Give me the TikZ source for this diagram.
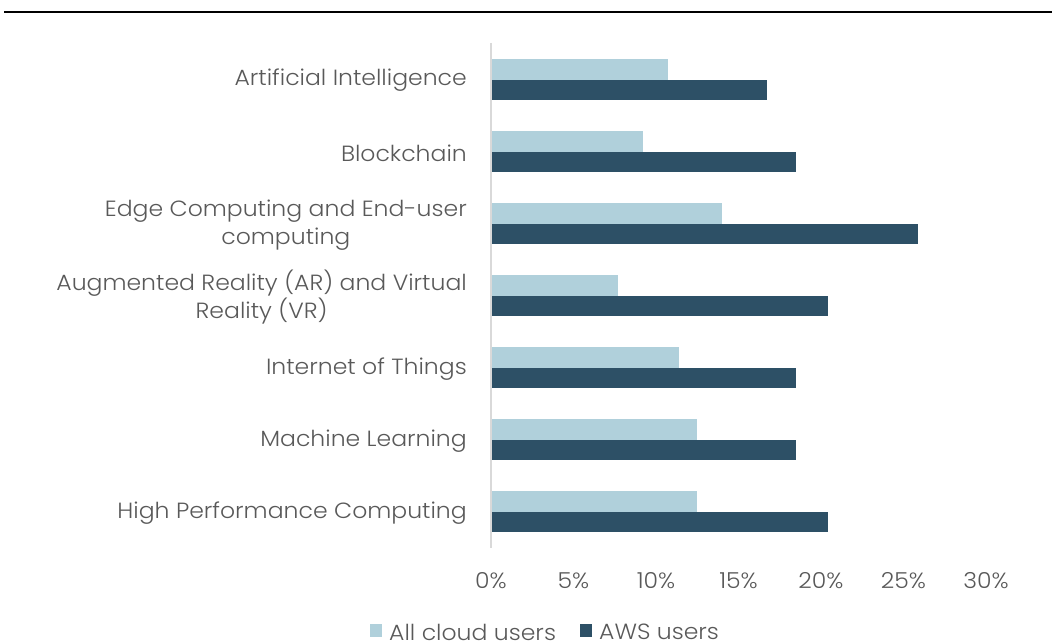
\documentclass[tikz,border=0pt]{standalone}
\usepackage{fontspec}
\setmainfont{Poppins}[UprightFont=* Light, FakeStretch=1.07]
\definecolor{allcloud}{HTML}{B0D0DB}
\definecolor{aws}{HTML}{2D5066}
\definecolor{txt}{HTML}{595959}
\definecolor{axisgray}{HTML}{D9D9D9}
\begin{document}
\begin{tikzpicture}[x=1pt,y=-1pt,
  catlabel/.style={anchor=east, text=txt, font=\fontsize{22}{28}\selectfont, align=center, inner sep=0pt},
  ticklabel/.style={anchor=center, text=txt, font=\fontsize{22}{28}\selectfont, inner sep=0pt},
  legendtext/.style={anchor=west, text=txt, font=\fontsize{22}{28}\selectfont, inner sep=0pt},
  lightbar/.style={fill=allcloud},
  darkbar/.style={fill=aws}]
\useasboundingbox (0,0) rectangle (1052,642);

% rule along the top
\draw[line width=2.5pt] (4,12) -- (1052,12);

% value axis: 0% at x=491, 16.5 per percent
\def\xz{491}
\def\sc{16.5}

% bars: index / all cloud users / AWS users
\foreach \i/\a/\b in {0/10.7/16.7, 1/9.2/18.5, 2/14.0/25.9, 3/7.7/20.4, 4/11.4/18.5, 5/12.5/18.5, 6/12.5/20.4}{
  \pgfmathsetmacro{\yc}{80+72*\i}
  \fill[lightbar] (\xz,\yc-21) rectangle ({\xz+\sc*\a},\yc);
  \fill[darkbar] (\xz,\yc) rectangle ({\xz+\sc*\b},\yc+20);
}

% category axis line
\draw[axisgray, line width=1.5pt] (\xz,43) -- (\xz,548);

% category labels
\node[catlabel] (ai)   at (467,80)  {Artificial Intelligence};
\node[catlabel] (bc)   at (467,153) {Blockchain};
\node[catlabel] (edge) at (467,225) {Edge Computing and End-user\\computing};
\node[catlabel] (arvr) at (467,297) {Augmented Reality (AR) and Virtual\\Reality (VR)};
\node[catlabel] (iot)  at (467,369) {Internet of Things};
\node[catlabel] (ml)   at (467,441) {Machine Learning};
\node[catlabel] (hpc)  at (467,513) {High Performance Computing};

% tick labels
\foreach \k in {0,5,...,30}{
  \node[ticklabel] (t\k) at ({\xz+\sc*\k},581) {\k\%};
}

% legend
\fill[allcloud] (370,624) rectangle (382,637);
\node[legendtext] (lg1) at (389,632) {All cloud users};
\fill[aws] (580,624) rectangle (592,637);
\node[legendtext] (lg2) at (599,632) {AWS users};
\end{tikzpicture}
\end{document}
